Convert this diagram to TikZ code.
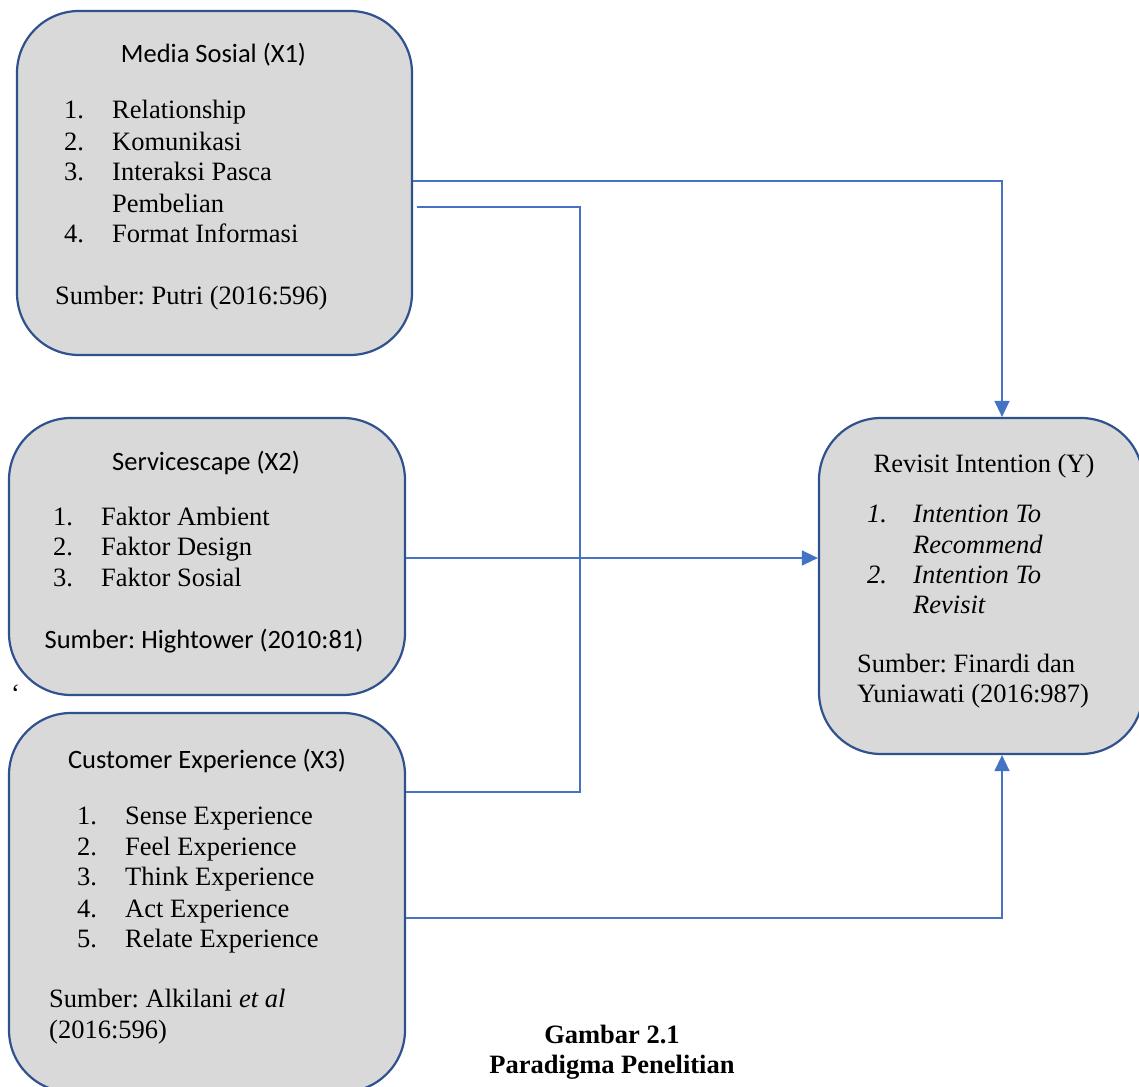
\documentclass[tikz,border=0pt]{standalone}
\usepackage{fontspec}
\setmainfont{Liberation Serif}
\newfontfamily\calfont{Carlito}
\usetikzlibrary{arrows.meta}
\definecolor{boxfill}{RGB}{217,217,217}
\definecolor{boxline}{RGB}{47,82,143}
\definecolor{connc}{RGB}{68,114,196}
\frenchspacing
\begin{document}
\begin{tikzpicture}[x=1pt,y=-1pt,
  box/.style={draw=boxline, fill=boxfill, line width=2.2pt, rounded corners=62pt, inner sep=0pt},
  txt/.style={anchor=base west, inner sep=0pt, font=\fontsize{26.5}{31}\selectfont},
  ctxt/.style={anchor=base, inner sep=0pt, font=\fontsize{26.5}{31}\selectfont},
  stxt/.style={anchor=base, inner sep=0pt, font=\calfont\fontsize{26.5}{31}\selectfont},
  connector/.style={draw=connc, line width=1.4pt},
  arr/.style={connector, -{Triangle[length=16pt,width=15pt]}}]
\clip (0,0) rectangle (1139,1086);
\fill[white] (0,0) rectangle (1139,1086);

% boxes
\node[box, minimum width=395pt, minimum height=344pt] (x1) at (214.5,183) {};
\node[box, minimum width=396pt, minimum height=277pt] (x2) at (207,556.5) {};
\node[box, minimum width=396pt, minimum height=379pt] (x3) at (207,902.5) {};
\node[box, minimum width=324pt, minimum height=336pt] (y) at (981,586) {};

% helper coordinates
\coordinate (ax) at (1002,0);
\coordinate (j) at (580,558);
\coordinate (b0) at (416.5,207);

% connectors
\draw[arr] (x1.east |- 0,181) -| (y.north -| ax);
\draw[connector] (b0) -| (j);
\draw[arr] (x2.east |- j) -- (y.west |- j);
\draw[connector] (x3.east |- 0,792) -| (j);
\draw[arr] (x3.east |- 0,918) -| (y.south -| ax);

% X1 text
\node[stxt] (x1t) at (213.5,63) {Media Sosial (X1)};
\foreach \n/\t/\yy in {1/Relationship/119, 2/Komunikasi/150, 3/Interaksi Pasca/181, 4/Format Informasi/242}{
  \node[txt] (x1n\n) at (64,\yy) {\n.};
  \node[txt] (x1i\n) at (112,\yy) {\t};
}
\node[txt] (x1i3b) at (112,212) {Pembelian};
\node[txt] (x1s) at (55,304) {Sumber: Putri (2016:596)};

% X2 text
\node[stxt] (x2t) at (206,470) {Servicescape (X2)};
\foreach \n/\t/\yy in {1/Faktor Ambient/525, 2/Faktor Design/555, 3/Faktor Sosial/586}{
  \node[txt] (x2n\n) at (53,\yy) {\n.};
  \node[txt] (x2i\n) at (101,\yy) {\t};
}
\node[stxt] (x2s) at (204,648) {Sumber: Hightower (2010:81)};
\node[txt] (q) at (11,702) {‘};

% X3 text
\node[stxt] (x3t) at (207,768) {Customer Experience (X3)};
\foreach \n/\t/\yy in {1/Sense Experience/824, 2/Feel Experience/855, 3/Think Experience/885, 4/Act Experience/917, 5/Relate Experience/947}{
  \node[txt] (x3n\n) at (77,\yy) {\n.};
  \node[txt] (x3i\n) at (125,\yy) {\t};
}
\node[txt] (x3s) at (49,1007) {Sumber: Alkilani \textit{et al}};
\node[txt] (x3s2) at (49,1038) {(2016:596)};

% Y text
\node[ctxt] (yt) at (984,472) {Revisit Intention (Y)};
\node[txt] (yn1) at (867,522) {\textit{1.}};
\node[txt] (yi1) at (913,522) {\textit{Intention To}};
\node[txt] (yi1b) at (913,553) {\textit{Recommend}};
\node[txt] (yn2) at (867,583) {\textit{2.}};
\node[txt] (yi2) at (913,583) {\textit{Intention To}};
\node[txt] (yi2b) at (913,613) {\textit{Revisit}};
\node[txt] (ys) at (857,672) {Sumber: Finardi dan};
\node[txt] (ys2) at (857,702) {Yuniawati (2016:987)};

% caption
\node[ctxt, font=\bfseries\fontsize{26.5}{31}\selectfont] (cap1) at (612,1043) {Gambar 2.1};
\node[ctxt, font=\bfseries\fontsize{26.5}{31}\selectfont] (cap2) at (612,1073) {Paradigma Penelitian};
\end{tikzpicture}
\end{document}
